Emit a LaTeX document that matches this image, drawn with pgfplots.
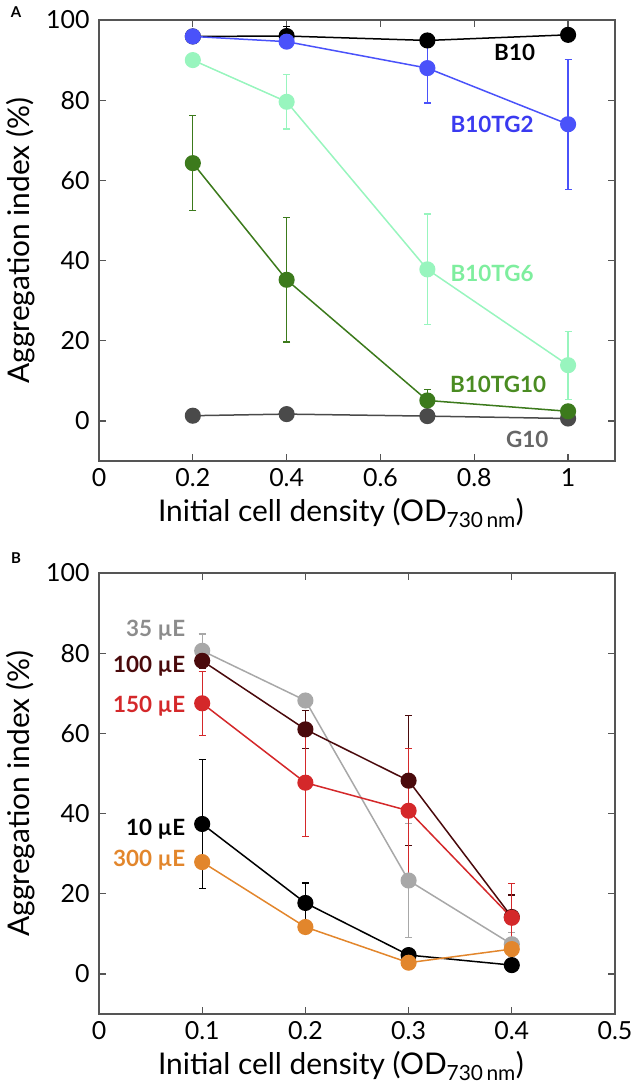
\documentclass[border=0pt]{standalone}
\usepackage{pgfplots}
\pgfplotsset{compat=1.18}
\usepackage{fontspec}
\setmainfont{Lato}
\definecolor{axisgray}{HTML}{555555}
\definecolor{cBten}{HTML}{000000}
\definecolor{cTGtwo}{HTML}{4A52FA}
\definecolor{cTGtwoL}{HTML}{3A3AF0}
\definecolor{cTGsix}{HTML}{98F5BE}
\definecolor{cTGsixL}{HTML}{7EEE9E}
\definecolor{cTGten}{HTML}{3C7A1C}
\definecolor{cTGtenL}{HTML}{4A8C22}
\definecolor{cGten}{HTML}{4A4A4A}
\definecolor{cGtenL}{HTML}{666666}
\definecolor{cThirtyfive}{HTML}{A8A8A8}
\definecolor{cThirtyfiveL}{HTML}{8C8C8C}
\definecolor{cHundred}{HTML}{4A0A0C}
\definecolor{cOnefifty}{HTML}{D4282A}
\definecolor{cTen}{HTML}{000000}
\definecolor{cThreehundred}{HTML}{E2862C}

\pgfplotstableread{
x y e
0.2 95.9 1.0
0.4 96.0 2.3
0.7 94.9 1.8
1.0 96.3 0.8
}\tBten
\pgfplotstableread{
x y e
0.2 95.9 0.8
0.4 94.6 1.8
0.7 88.0 8.7
1.0 74.0 16.2
}\tTGtwo
\pgfplotstableread{
x y e
0.2 90.0 1.5
0.4 79.6 6.8
0.7 37.8 13.8
1.0 13.9 8.5
}\tTGsix
\pgfplotstableread{
x y e
0.2 64.3 11.9
0.4 35.2 15.5
0.7 5.1 2.7
1.0 2.4 0.8
}\tTGten
\pgfplotstableread{
x y e
0.2 1.3 0.5
0.4 1.7 0.5
0.7 1.2 0.5
1.0 0.6 0.5
}\tGten

\pgfplotstableread{
x y e
0.1 80.6 4.2
0.2 68.2 1.0
0.3 23.3 14.3
0.4 7.4 3.0
}\tThirtyfive
\pgfplotstableread{
x y e
0.1 78.1 2.0
0.2 61.0 4.8
0.3 48.2 16.2
0.4 14.2 5.5
}\tHundred
\pgfplotstableread{
x y e
0.1 67.5 8.0
0.2 47.7 13.5
0.3 40.7 15.6
0.4 14.0 8.5
}\tOnefifty
\pgfplotstableread{
x y e
0.1 37.4 16.0
0.2 17.7 5.0
0.3 4.7 1.0
0.4 2.2 0.5
}\tTen
\pgfplotstableread{
x y e
0.1 27.9 1.0
0.2 11.7 1.0
0.3 2.8 0.8
0.4 6.2 1.0
}\tThreehundred

\tikzset{lab/.style={font=\bfseries\fontsize{22.5}{22.5}\selectfont, text=#1}}
\pgfplotsset{
  panel/.style={
    scale only axis, width=516bp, height=441bp,
    ymin=-10, ymax=100,
    ytick={0,20,40,60,80,100},
    tick align=inside,
    major tick length=7bp,
    tick style={line width=1.2bp, color=axisgray},
    axis line style={line width=1.5bp, color=axisgray},
    /pgf/number format/assume math mode=true,
    ticklabel style={font=\fontsize{25}{25}\selectfont},
    label style={font=\fontsize{30}{30}\selectfont},
    ylabel={Aggregation index (\%)},
    xlabel={Initial cell density (OD\textsubscript{730\,nm})},
    ylabel style={at={(axis description cs:-0.151,0.5)}, anchor=center},
    xlabel style={at={(axis description cs:0.469,-0.118)}, anchor=center},
    xticklabel style={yshift=-4bp},
    yticklabel style={xshift=-6bp},
    clip=false,
  },
  ser/.style={color=#1, line width=1.5bp, mark=*, mark size=7.3bp,
    mark options={solid, fill=#1, draw=#1},
    error bars/.cd, y dir=both, y explicit,
    error bar style={line width=1.2bp, color=#1},
    error mark options={rotate=90, mark size=3.5bp, line width=1.2bp, color=#1}},
}

\begin{document}
\begin{tikzpicture}
\path[use as bounding box] (-99bp,20bp) rectangle (543bp,-1071bp);
\node[font=\bfseries\fontsize{15}{15}\selectfont] at (-83bp,8bp) {A};
\node[font=\bfseries\fontsize{15}{15}\selectfont] at (-83bp,-538bp) {B};

\begin{axis}[panel, at={(0,0)}, anchor=north west,
  xmin=0, xmax=1.1,
  xtick={0,0.2,0.4,0.6,0.8,1},
  xticklabels={0,0.2,0.4,0.6,0.8,1},
  yticklabels={0,20,40,60,80,100}]
\addplot[ser=cGten] table[x=x,y=y,y error=e] {\tGten};
\addplot[ser=cBten] table[x=x,y=y,y error=e] {\tBten};
\addplot[ser=cTGten] table[x=x,y=y,y error=e] {\tTGten};
\addplot[ser=cTGsix] table[x=x,y=y,y error=e] {\tTGsix};
\addplot[ser=cTGtwo] table[x=x,y=y,y error=e] {\tTGtwo};
\node[lab=black] at (axis cs:0.886,91.9) {B10};
\node[lab=cTGtwoL] at (axis cs:0.838,74.0) {B10TG2};
\node[lab=cTGsixL] at (axis cs:0.838,36.7) {B10TG6};
\node[lab=cTGtenL] at (axis cs:0.851,9.1) {B10TG10};
\node[lab=cGtenL] at (axis cs:0.913,-4.7) {G10};
\end{axis}

\begin{axis}[panel, at={(0,-553bp)}, anchor=north west,
  xmin=0, xmax=0.5,
  xtick={0,0.1,0.2,0.3,0.4,0.5},
  xticklabels={0,0.1,0.2,0.3,0.4,0.5},
  yticklabels={0,20,40,60,80,100}]
\addplot[ser=cThirtyfive] table[x=x,y=y,y error=e] {\tThirtyfive};
\addplot[ser=cHundred] table[x=x,y=y,y error=e] {\tHundred};
\addplot[ser=cOnefifty] table[x=x,y=y,y error=e] {\tOnefifty};
\addplot[ser=cTen] table[x=x,y=y,y error=e] {\tTen};
\addplot[ser=cThreehundred] table[x=x,y=y,y error=e] {\tThreehundred};
\node[lab=cThirtyfiveL, anchor=east] at (axis cs:0.087,85.7) {35 µE};
\node[lab=cHundred, anchor=east] at (axis cs:0.087,76.8) {100 µE};
\node[lab=cOnefifty, anchor=east] at (axis cs:0.087,66.7) {150 µE};
\node[lab=black, anchor=east] at (axis cs:0.087,36.0) {10 µE};
\node[lab=cThreehundred, anchor=east] at (axis cs:0.087,28.3) {300 µE};
\end{axis}
\end{tikzpicture}
\end{document}
